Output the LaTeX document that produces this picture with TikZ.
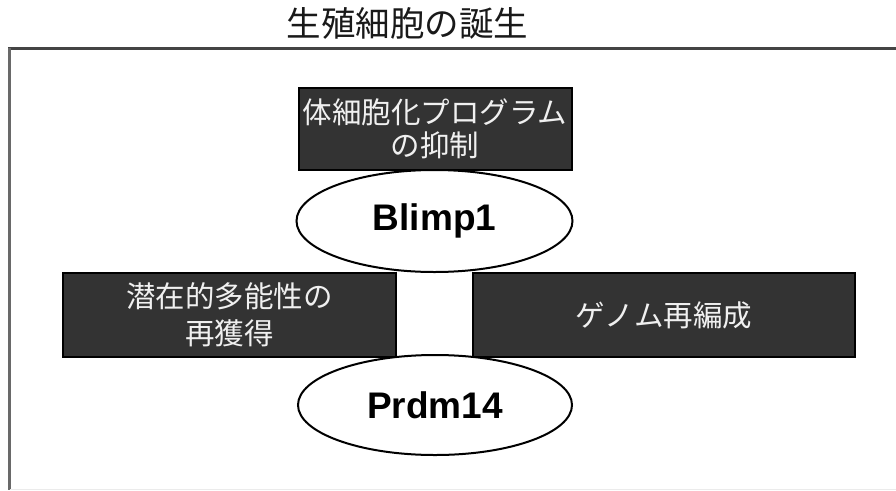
\documentclass[tikz,border=0pt]{standalone}
\usepackage{fontspec}
\setmainfont{Liberation Sans}
\newfontfamily\jp{Noto Sans CJK JP}
\usetikzlibrary{shapes.geometric}
\definecolor{boxfill}{HTML}{333333}
\definecolor{boxtext}{HTML}{F0F0F0}
\definecolor{framecol}{HTML}{444444}
\tikzset{
  darkbox/.style={draw=black, line width=2pt, fill=boxfill, text=boxtext, inner sep=0pt, align=center,
    font=\jp\fontsize{29.5}{34}\selectfont},
  genenode/.style={ellipse, draw=black, line width=2pt, fill=white, inner sep=0pt,
    font=\bfseries\fontsize{37}{40}\selectfont},
}
\begin{document}
\begin{tikzpicture}[x=1pt,y=-1pt]
\useasboundingbox (0,0) rectangle (896,490);
\fill[white] (0,0) rectangle (896,490);
% frame
\draw[framecol, line width=3pt] (8,48) -- (896,48);
\draw[framecol!80, line width=3pt] (9.5,48) -- (9.5,490);
\draw[black!8, line width=1pt] (9.5,489) -- (896,489);
% title
\node[font=\jp\fontsize{34.5}{40}\selectfont, text=black!90] (title) at (407.5,23) {生殖細胞の誕生};
% middle white connector
\fill[white] (396,272) rectangle (473,357);
% side boxes
\node[darkbox, minimum width=333pt, minimum height=84pt, font=\jp\fontsize{29.5}{37}\selectfont] (left) at (229.5,315) {潜在的多能性の\\再獲得};
\node[darkbox, minimum width=382pt, minimum height=84pt] (right) at (664,315) {ゲノム再編成};
% top box
\node[darkbox, minimum width=273pt, minimum height=82pt, font=\jp\fontsize{29.5}{33}\selectfont] (top) at (435,128.5) {体細胞化プログラム\\の抑制};
% ellipses
\node[genenode, minimum width=276pt, minimum height=102pt] (blimp) at (434.5,221) {Blimp1};
\node[genenode, minimum width=274pt, minimum height=100pt] (prdm) at (435,405) {Prdm14};
\end{tikzpicture}
\end{document}
